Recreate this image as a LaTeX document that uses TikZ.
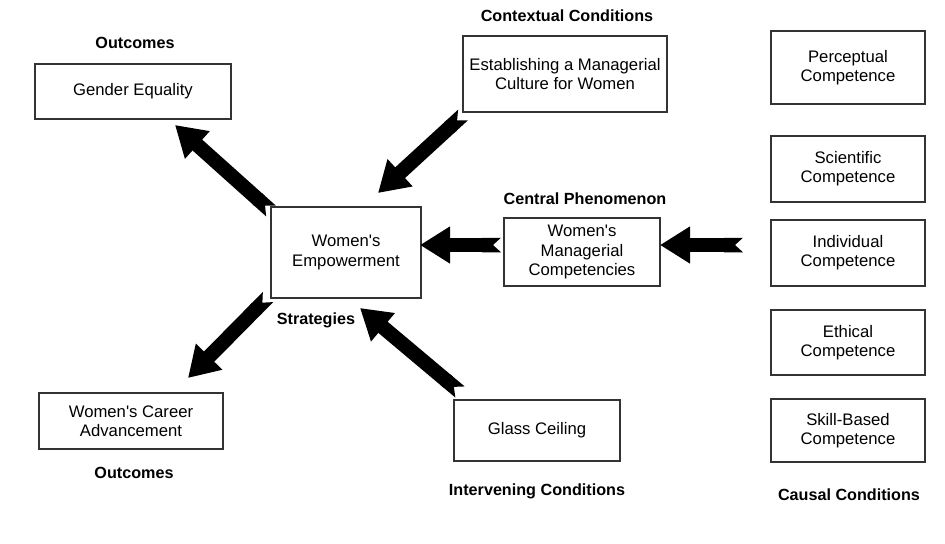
\documentclass[tikz,border=0pt]{standalone}
\usepackage{fontspec}
\setmainfont{Liberation Sans}
\usepackage{tikz}
\usetikzlibrary{arrows.meta,positioning}

\begin{document}
\begin{tikzpicture}[
  box/.style={draw=black!80,line width=1pt,align=center,font=\fontsize{9.5}{10.9}\selectfont,inner sep=2pt},
  lbl/.style={font=\fontsize{9.2}{10}\selectfont\bfseries,inner sep=1pt},
  bigarrow/.style={line width=0.29cm,{Triangle Cap[reversed,length=1.6mm]}-{Triangle[width=0.7cm,length=0.6cm]}}
]
\useasboundingbox (0,0) rectangle (18.9,-10.88);
% boxes
\node[box,minimum width=3.92cm,minimum height=1.10cm] (gender) at (2.66,-1.83) {Gender Equality};
\node[box,minimum width=4.08cm,minimum height=1.52cm] (context) at (11.30,-1.48) {Establishing a Managerial\\Culture for Women};
\node[box,minimum width=3.00cm,minimum height=1.82cm] (emp) at (6.92,-5.05) {Women\textquotesingle s\\Empowerment};
\node[box,minimum width=3.12cm,minimum height=1.36cm] (compet) at (11.64,-5.04) {Women\textquotesingle s\\Managerial\\Competencies};
\node[box,minimum width=3.68cm,minimum height=1.12cm] (career) at (2.62,-8.42) {Women\textquotesingle s Career\\Advancement};
\node[box,minimum width=3.32cm,minimum height=1.22cm] (glass) at (10.74,-8.61) {Glass Ceiling};
\node[box,minimum width=3.08cm,minimum height=1.46cm] (percep) at (16.96,-1.35) {Perceptual\\Competence};
\node[box,minimum width=3.08cm,minimum height=1.32cm] (scient) at (16.96,-3.38) {Scientific\\Competence};
\node[box,minimum width=3.08cm,minimum height=1.32cm] (indiv) at (16.96,-5.06) {Individual\\Competence};
\node[box,minimum width=3.08cm,minimum height=1.30cm] (ethic) at (16.96,-6.85) {Ethical\\Competence};
\node[box,minimum width=3.08cm,minimum height=1.26cm] (skill) at (16.96,-8.61) {Skill-Based\\Competence};
% headings
\node[lbl] (outtop) at (2.70,-0.86) {Outcomes};
\node[lbl] (contextlbl) at (11.34,-0.32) {Contextual Conditions};
\node[lbl] (centrallbl) at (11.70,-3.98) {Central Phenomenon};
\node[lbl] (stratlbl) at (6.32,-6.40) {Strategies};
\node[lbl] (outbot) at (2.68,-9.46) {Outcomes};
\node[lbl] (interlbl) at (10.74,-9.82) {Intervening Conditions};
\node[lbl] (causallbl) at (16.98,-9.90) {Causal Conditions};
% arrow ends
\coordinate (empnw) at (5.42,-4.22);
\coordinate (gendertip) at (3.50,-2.50);
\coordinate (contexttail) at (9.26,-2.30);
\coordinate (emptop) at (7.56,-3.86);
\coordinate (compettail) at (10.02,-4.90);
\coordinate (empright) at (8.40,-4.90);
\coordinate (causaltail) at (14.86,-4.90);
\coordinate (competright) at (13.20,-4.90);
\coordinate (empsw) at (5.36,-5.94);
\coordinate (careertip) at (3.76,-7.56);
\coordinate (glasstail) at (9.20,-7.84);
\coordinate (empbot) at (7.20,-6.16);
% arrows
\draw[bigarrow] (empnw)--(gendertip);
\draw[bigarrow] (contexttail)--(emptop);
\draw[bigarrow] (compettail)--(empright);
\draw[bigarrow] (causaltail)--(competright);
\draw[bigarrow] (empsw)--(careertip);
\draw[bigarrow] (glasstail)--(empbot);
\end{tikzpicture}
\end{document}
